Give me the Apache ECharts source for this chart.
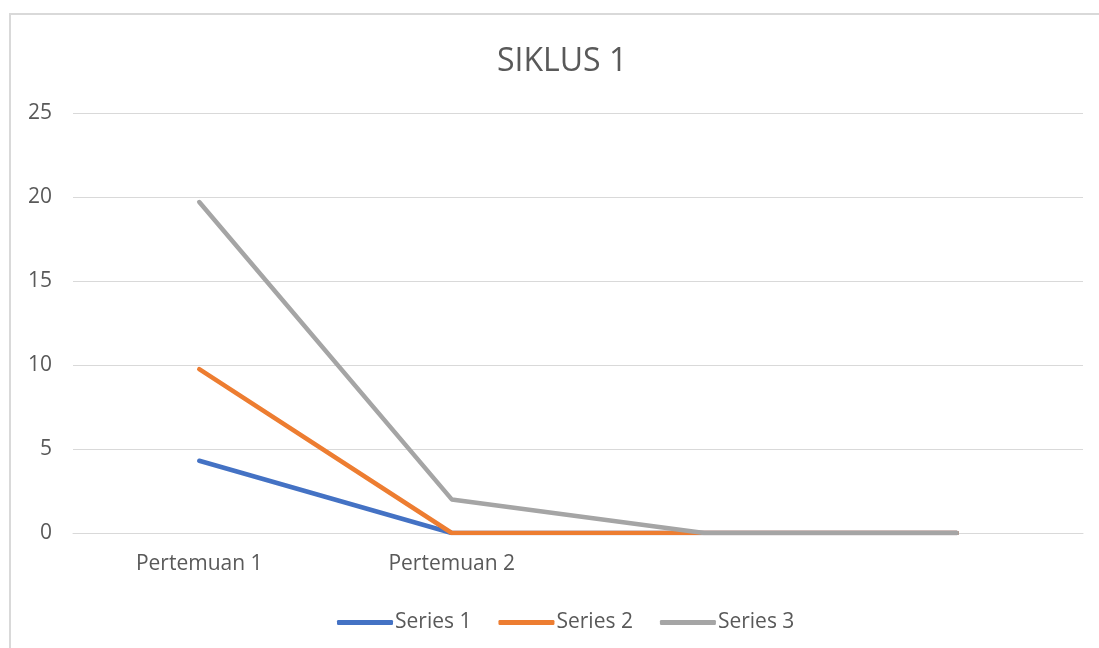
<!DOCTYPE html>
<html>
<head>
<meta charset="utf-8">
<script src="https://cdn.jsdelivr.net/npm/echarts@6/dist/echarts.min.js"></script>
<style>
html,body{margin:0;padding:0;background:#fff;}
#chart{width:1099px;height:648px;}
</style>
</head>
<body>
<div id="chart"></div>
<script>
const categories = ["Pertemuan 1", "Pertemuan 2", "", ""];
const series1 = [4.3, 0, 0, 0];
const series2 = [9.75, 0, 0, 0];
const series3 = [19.7, 2, 0, 0];
const seriesNames = ["Series 1", "Series 2", "Series 3"];
const colors = ["#4472C4", "#ED7D31", "#A5A5A5"];

const font = "'Open Sans', 'Noto Sans', sans-serif";
const chart = echarts.init(document.getElementById('chart'), null, {renderer: 'canvas'});
const mk = (name, data, color) => ({
  name, type: 'line', data, symbol: 'none', color,
  lineStyle: {width: 4.5, color, cap: 'round', join: 'round'}
});
chart.setOption({
  animation: false,
  backgroundColor: '#fff',
  graphic: [{
    type: 'rect', shape: {x: 10, y: 14, width: 1100, height: 650},
    style: {fill: 'none', stroke: '#D9D9D9', lineWidth: 2}, z: -1
  }],
  title: {
    text: 'SIKLUS 1', left: 492, top: 41,
    textStyle: {fontFamily: font, fontSize: 32, fontWeight: 'normal', color: '#595959'}
  },
  legend: {
    top: 607, left: 332, itemWidth: 56, itemHeight: 5, itemGap: 27,
    icon: 'roundRect',
    data: seriesNames,
    textStyle: {fontFamily: font, fontSize: 21, color: '#595959', padding: [0,0,0,-3]}
  },
  grid: {left: 73, right: 16, top: 113, bottom: 115, containLabel: false},
  xAxis: {
    type: 'category', data: categories, boundaryGap: true,
    axisLine: {lineStyle: {color: '#D9D9D9', width: 1}},
    axisTick: {show: false},
    axisLabel: {fontFamily: font, fontSize: 21, color: '#595959', margin: 21}
  },
  yAxis: {
    type: 'value', min: 0, max: 25, interval: 5,
    axisLine: {show: false}, axisTick: {show: false},
    splitLine: {lineStyle: {color: '#D9D9D9', width: 1}},
    axisLabel: {fontFamily: font, fontSize: 21, color: '#595959', margin: 21}
  },
  series: [
    mk(seriesNames[0], series1, colors[0]),
    mk(seriesNames[1], series2, colors[1]),
    mk(seriesNames[2], series3, colors[2])
  ]
});
</script>
</body>
</html>
